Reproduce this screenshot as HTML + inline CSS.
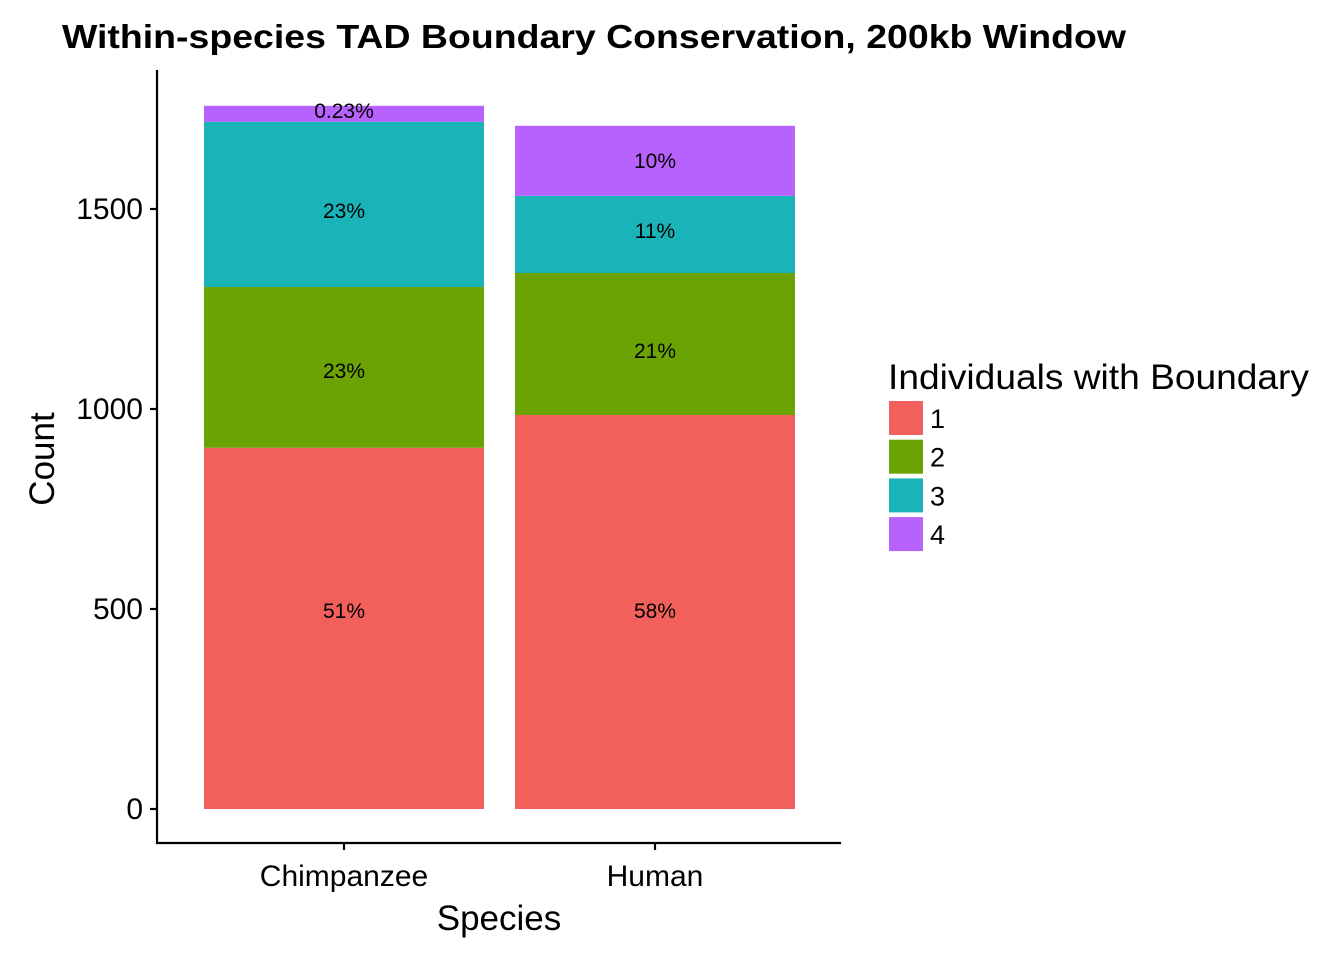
<!DOCTYPE html>
<html><head><meta charset="utf-8"><style>
body{margin:0;background:#fff;}
svg text{font-family:"Liberation Sans",Arial,sans-serif;}
</style></head><body>
<svg id="chart" width="1344" height="960" xmlns="http://www.w3.org/2000/svg">
<text x="62" y="48" font-size="33" font-weight="bold" textLength="1064" lengthAdjust="spacingAndGlyphs">Within-species TAD Boundary Conservation, 200kb Window</text>
<g id="plot"></g>
<line x1="157" y1="70" x2="157" y2="844" stroke="#000" stroke-width="2.2"/>
<line x1="156" y1="843" x2="841" y2="843" stroke="#000" stroke-width="2.2"/>
<text x="499" y="930" font-size="35" text-anchor="middle">Species</text>
<text transform="translate(54,459) rotate(-90)" font-size="35" text-anchor="middle">Count</text>
<text x="888" y="389" font-size="35" textLength="421" lengthAdjust="spacingAndGlyphs">Individuals with Boundary</text>
<g id="legend"></g>
</svg>
<script>
const categories=["Chimpanzee","Human"];
const groups=["1","2","3","4"];
const colors=["#F2605B","#6BA304","#19B3B8","#B762FC"];
const s1=[903,985];
const s2=[402,355];
const s3=[413,193];
const s4=[40,175];
const labels1=["51%","58%"];
const labels2=["23%","21%"];
const labels3=["23%","11%"];
const labels4=["0.23%","10%"];
const labelPos1=[495,495];
const labelPos2=[1095,1145];
const labelPos3=[1495,1445];
const labelPos4=[1745,1620];
const yTicks=[0,500,1000,1500];
const series=[s1,s2,s3,s4];
const labels=[labels1,labels2,labels3,labels4];
const labelPos=[labelPos1,labelPos2,labelPos3,labelPos4];
const NS="http://www.w3.org/2000/svg";
const plot=document.getElementById('plot');
const y=v=>809-v*0.4;
const xc=i=>344+i*311;
const bw=280;
function mk(t,a,p){const e=document.createElementNS(NS,t);for(const k in a)e.setAttribute(k,a[k]);(p||plot).appendChild(e);return e;}
yTicks.forEach(t=>{
  const l=mk('line',{x1:150,x2:157,y1:y(t),y2:y(t),stroke:'#000','stroke-width':2.2});
  
  
  const tx=mk('text',{x:143,y:y(t)+10,'font-size':30,'text-anchor':'end'});tx.textContent=t;
  
  
});
categories.forEach((c,i)=>{
  let base=0;
  series.forEach((s,g)=>{
    const v=s[i];
    const r=mk('rect',{x:xc(i)-bw/2,y:y(base+v),width:bw,height:v*0.4,fill:colors[g]});
    
    
    base+=v;
  });
  series.forEach((s,g)=>{
    const t=mk('text',{x:xc(i),y:y(labelPos[g][i])+7,'font-size':21,'text-anchor':'middle'});t.textContent=labels[g][i];
    
    
  });
  const tk=mk('line',{x1:xc(i),x2:xc(i),y1:843,y2:850,stroke:'#000','stroke-width':2.2});
  
  
  const tl=mk('text',{x:xc(i),y:886,'font-size':30,'text-anchor':'middle'});tl.textContent=c;
  
  
});
const lg=document.getElementById('legend');
groups.forEach((g,k)=>{
  const r=mk('rect',{x:889,y:401+k*38.7,width:34,height:34,fill:colors[k]},lg);
  
  
  const t=mk('text',{x:930,y:428+k*38.7,'font-size':27},lg);t.textContent=g;
  
  
});
</script>
</body></html>
